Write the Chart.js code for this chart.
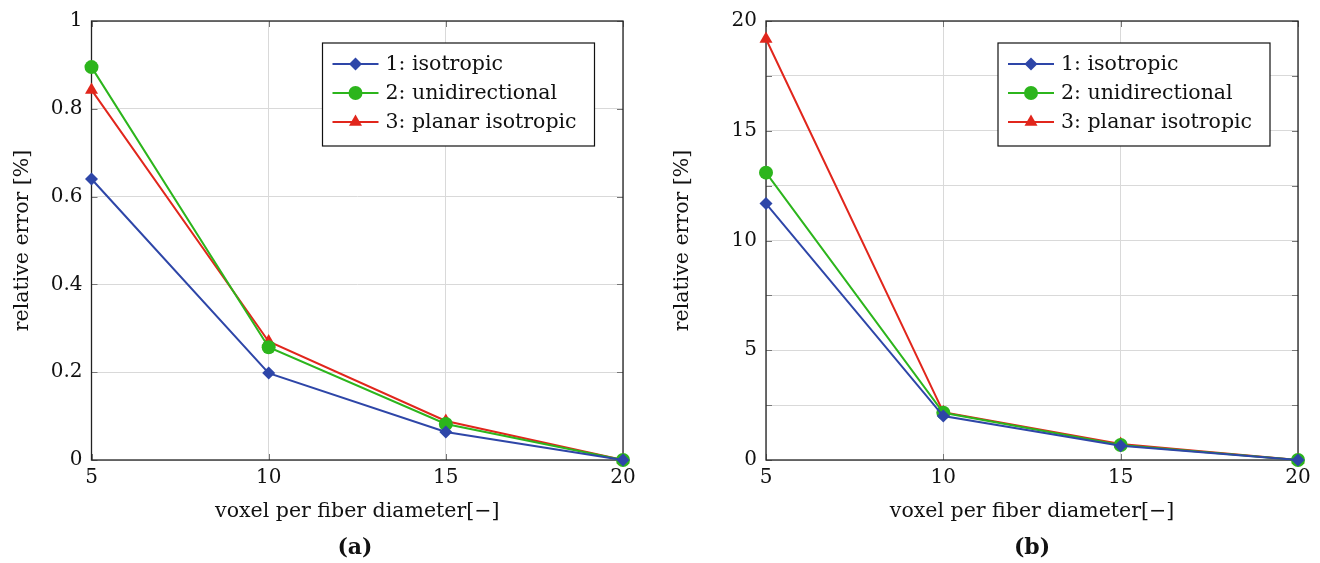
<!DOCTYPE html>
<html><head><meta charset="utf-8">
<script src="https://cdn.jsdelivr.net/npm/chart.js@4"></script>
<style>
html,body{margin:0;padding:0;background:#fff;}
#wrap{position:relative;width:1320px;height:563px;}
.box{position:absolute;top:0;width:660px;height:563px;}
.cap{position:absolute;top:532px;width:100px;text-align:center;font:bold 22px "DejaVu Serif",serif;color:#111;line-height:28px;}
</style></head><body>
<div id="wrap">
<div class="box" style="left:0"><canvas id="ca"></canvas></div>
<div class="box" style="left:660px"><canvas id="cb"></canvas></div>
<div class="cap" style="left:305px">(a)</div>
<div class="cap" style="left:982px">(b)</div>
</div>
<script>
const xValues = [5, 10, 15, 20];
const seriesLabels = ['1: isotropic', '2: unidirectional', '3: planar isotropic'];
const isoA = [0.640, 0.198, 0.064, 0.0];
const uniA = [0.895, 0.257, 0.082, 0.0];
const planA = [0.843, 0.270, 0.089, 0.0];
const isoB = [11.68, 2.00, 0.65, 0.0];
const uniB = [13.09, 2.15, 0.68, 0.0];
const planB = [19.18, 2.18, 0.73, 0.0];
const xTitle = 'voxel per fiber diameter[\u2212]';
const yTitle = 'relative error [%]';

const colors = ['#2e46a8', '#2cb51c', '#e1261c'];
const styles = ['rectRot', 'circle', 'triangle'];
const radii = [6.5, 7, 7.5];
const FONT = '"DejaVu Serif", serif';

function ds(vals, i) {
  return {
    label: seriesLabels[i],
    data: xValues.map((x, k) => ({x: x, y: vals[k]})),
    borderColor: colors[i], backgroundColor: colors[i],
    borderWidth: 2, pointStyle: styles[i], pointRadius: radii[i],
    pointHoverRadius: radii[i], pointBorderWidth: 0, tension: 0, clip: false
  };
}

const framePlugin = {
  id: 'frame',
  beforeDatasetsDraw(chart) {
    const a = chart.chartArea, c = chart.ctx;
    c.save();
    c.strokeStyle = '#777'; c.lineWidth = 1;
    const xs = chart.scales.x, ys = chart.scales.y;
    const L = 6;
    xs.ticks.forEach(t => {
      const px = Math.round(xs.getPixelForValue(t.value)) + 0.5;
      c.beginPath(); c.moveTo(px, a.bottom); c.lineTo(px, a.bottom - L);
      c.moveTo(px, a.top); c.lineTo(px, a.top + L); c.stroke();
    });
    ys.ticks.forEach(t => {
      const py = Math.round(ys.getPixelForValue(t.value)) + 0.5;
      c.beginPath(); c.moveTo(a.left, py); c.lineTo(a.left + L, py);
      c.moveTo(a.right, py); c.lineTo(a.right - L, py); c.stroke();
    });
    c.strokeStyle = '#222'; c.lineWidth = 1.3;
    c.strokeRect(a.left, a.top, a.right - a.left, a.bottom - a.top);
    c.restore();
  },
  afterDraw(chart, args, opts) {
    const c = chart.ctx, a = chart.chartArea;
    const x0 = a.left + opts.dx, y0 = a.top + 22, w = 272, h = 103;
    c.save();
    c.fillStyle = '#fff'; c.fillRect(x0, y0, w, h);
    c.strokeStyle = '#111'; c.lineWidth = 1.2; c.strokeRect(x0, y0, w, h);
    c.font = '20.5px ' + FONT; c.textBaseline = 'middle';
    chart.data.datasets.forEach((d, i) => {
      const yy = y0 + 21 + i * 29;
      c.strokeStyle = d.borderColor; c.lineWidth = 2;
      c.beginPath(); c.moveTo(x0 + 10, yy); c.lineTo(x0 + 56, yy); c.stroke();
      c.fillStyle = d.backgroundColor;
      Chart.helpers.drawPoint(c, {pointStyle: d.pointStyle, radius: d.pointRadius, borderWidth: 0}, x0 + 33, yy);
      c.fillStyle = '#111';
      c.fillText(d.label, x0 + 63, yy + 1);
    });
    c.restore();
  }
};

function make(id, sets, yMax, yStep, yWidth, padRight, legendDx, labelEvery) {
  return new Chart(document.getElementById(id), {
    type: 'line',
    data: {datasets: sets},
    plugins: [framePlugin],
    options: {
      responsive: false, animation: false, devicePixelRatio: 1,
      layout: {padding: {left: 9, right: padRight, top: 20, bottom: 37}},
      plugins: {legend: {display: false}, tooltip: {enabled: false}, frame: {dx: legendDx}},
      elements: {point: {borderWidth: 0}},
      scales: {
        x: {
          type: 'linear', min: 5, max: 20,
          ticks: {stepSize: 5, color: '#111', font: {family: FONT, size: 20}, padding: 6, maxRotation: 0},
          grid: {color: '#d9d9d9', drawTicks: false},
          border: {display: false},
          title: {display: true, text: xTitle, color: '#111', font: {family: FONT, size: 20.5}, padding: {top: 2, bottom: 2}},
          afterFit(s) { s.height = 66; }
        },
        y: {
          min: 0, max: yMax,
          ticks: {stepSize: yStep, color: '#111', font: {family: FONT, size: 20}, padding: 9,
            callback: (v) => (Math.abs(v / labelEvery - Math.round(v / labelEvery)) < 1e-6 ? String(Math.round(v * 100) / 100) : '')},
          grid: {color: '#d9d9d9', drawTicks: false},
          border: {display: false},
          title: {display: true, text: yTitle, color: '#111', font: {family: FONT, size: 20.5}, padding: {top: 1, bottom: 1}},
          afterFit(s) { s.width = yWidth; }
        }
      }
    }
  });
}

const ca = document.getElementById('ca'); ca.width = 660; ca.height = 563;
const cb = document.getElementById('cb'); cb.width = 660; cb.height = 563;
make('ca', [ds(isoA, 0), ds(uniA, 1), ds(planA, 2)], 1, 0.2, 82.5, 37, 231, 0.2);
make('cb', [ds(isoB, 0), ds(uniB, 1), ds(planB, 2)], 20, 2.5, 97, 22, 232, 5);
</script>
</body></html>
